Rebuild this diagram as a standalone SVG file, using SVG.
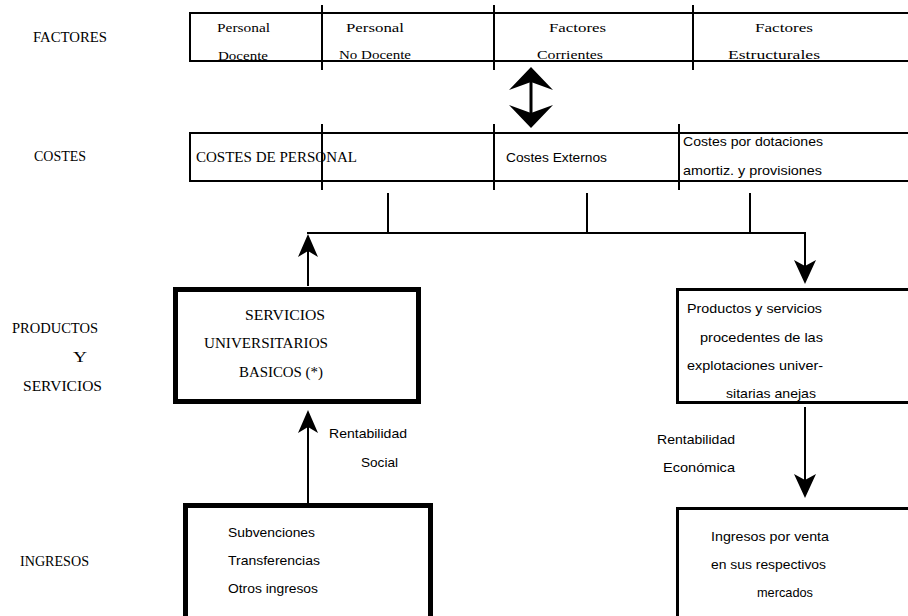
<svg xmlns="http://www.w3.org/2000/svg" width="908" height="616" viewBox="0 0 908 616">
  <style>
    .serif { font-family: "Liberation Serif", "Times New Roman", serif; font-size: 14px; fill: #000; }
    .cell { font-family: "Liberation Serif", "Times New Roman", serif; font-size: 13px; fill: #000; }
    .sans { font-family: "Liberation Sans", Arial, sans-serif; font-size: 13px; fill: #000; }
    .frame { fill: none; stroke: #000; }
    .thin { stroke-width: 2; }
    .mid { stroke-width: 3; }
    .thick { stroke-width: 5; }
    .line { stroke: #000; stroke-width: 2; fill: none; }
    .head { fill: #000; stroke: none; }
  </style>

  <rect width="908" height="616" fill="#fff"/>

  <!-- Row labels -->
  <g id="row-labels">
    <text class="serif" x="33" y="42" textLength="74" lengthAdjust="spacingAndGlyphs">FACTORES</text>
    <text class="serif" x="34" y="161" textLength="52" lengthAdjust="spacingAndGlyphs">COSTES</text>
    <text class="serif" x="12" y="333" textLength="86" lengthAdjust="spacingAndGlyphs">PRODUCTOS</text>
    <text class="serif" x="73" y="362" textLength="14" lengthAdjust="spacingAndGlyphs">Y</text>
    <text class="serif" x="23" y="391" textLength="79" lengthAdjust="spacingAndGlyphs">SERVICIOS</text>
    <text class="serif" x="20" y="566" textLength="69" lengthAdjust="spacingAndGlyphs">INGRESOS</text>
  </g>

  <!-- Factores strip -->
  <g id="factores">
    <rect class="frame thin" x="190" y="13" width="730" height="48"/>
    <line class="line" x1="322" y1="5" x2="322" y2="70"/>
    <line class="line" x1="494" y1="5" x2="494" y2="70"/>
    <line class="line" x1="693" y1="5" x2="693" y2="70"/>
    <text class="cell" x="217" y="32" textLength="53" lengthAdjust="spacingAndGlyphs">Personal</text>
    <text class="cell" x="218" y="60" textLength="50" lengthAdjust="spacingAndGlyphs">Docente</text>
    <text class="cell" x="346" y="32" textLength="58" lengthAdjust="spacingAndGlyphs">Personal</text>
    <text class="cell" x="339" y="59" textLength="72" lengthAdjust="spacingAndGlyphs">No Docente</text>
    <text class="cell" x="549" y="32" textLength="57" lengthAdjust="spacingAndGlyphs">Factores</text>
    <text class="cell" x="537" y="59" textLength="66" lengthAdjust="spacingAndGlyphs">Corrientes</text>
    <text class="cell" x="755" y="32" textLength="58" lengthAdjust="spacingAndGlyphs">Factores</text>
    <text class="cell" x="728" y="59" textLength="92" lengthAdjust="spacingAndGlyphs">Estructurales</text>
  </g>

  <!-- Costes strip -->
  <g id="costes">
    <rect class="frame thin" x="190" y="133" width="730" height="48"/>
    <line class="line" x1="322" y1="124" x2="322" y2="190"/>
    <line class="line" x1="494" y1="124" x2="494" y2="190"/>
    <line class="line" x1="679" y1="124" x2="679" y2="190"/>
    <text class="serif" x="196" y="162" textLength="161" lengthAdjust="spacingAndGlyphs">COSTES DE PERSONAL</text>
    <text class="sans" x="506" y="162" textLength="101" lengthAdjust="spacingAndGlyphs">Costes Externos</text>
    <text class="sans" x="683" y="146" textLength="140" lengthAdjust="spacingAndGlyphs">Costes por dotaciones</text>
    <text class="sans" x="683" y="175" textLength="139" lengthAdjust="spacingAndGlyphs">amortiz. y provisiones</text>
  </g>

  <!-- Servicios universitarios basicos -->
  <g id="servicios-basicos">
    <rect class="frame thick" x="175.5" y="289.5" width="243" height="112"/>
    <text class="serif" x="245" y="320" textLength="80" lengthAdjust="spacingAndGlyphs">SERVICIOS</text>
    <text class="serif" x="204" y="348" textLength="124" lengthAdjust="spacingAndGlyphs">UNIVERSITARIOS</text>
    <text class="serif" x="239" y="377" textLength="84" lengthAdjust="spacingAndGlyphs">BASICOS (*)</text>
  </g>

  <!-- Explotaciones anejas -->
  <g id="explotaciones">
    <rect class="frame mid" x="677.5" y="289.5" width="250" height="113"/>
    <text class="sans" x="687" y="313" textLength="135" lengthAdjust="spacingAndGlyphs">Productos y servicios</text>
    <text class="sans" x="700" y="342" textLength="123" lengthAdjust="spacingAndGlyphs">procedentes de las</text>
    <text class="sans" x="687" y="370" textLength="136" lengthAdjust="spacingAndGlyphs">explotaciones univer-</text>
    <text class="sans" x="726" y="398" textLength="90" lengthAdjust="spacingAndGlyphs">sitarias anejas</text>
  </g>

  <!-- Subvenciones y transferencias -->
  <g id="ingresos-basicos">
    <rect class="frame thick" x="185.5" y="505.5" width="245" height="130"/>
    <text class="sans" x="228" y="537" textLength="87" lengthAdjust="spacingAndGlyphs">Subvenciones</text>
    <text class="sans" x="228" y="565" textLength="92" lengthAdjust="spacingAndGlyphs">Transferencias</text>
    <text class="sans" x="228" y="593" textLength="90" lengthAdjust="spacingAndGlyphs">Otros ingresos</text>
  </g>

  <!-- Ingresos por venta -->
  <g id="ingresos-venta">
    <rect class="frame mid" x="677.5" y="508.5" width="250" height="130"/>
    <text class="sans" x="711" y="541" textLength="118" lengthAdjust="spacingAndGlyphs">Ingresos por venta</text>
    <text class="sans" x="711" y="569" textLength="115" lengthAdjust="spacingAndGlyphs">en sus respectivos</text>
    <text class="sans" x="757" y="597" textLength="56" lengthAdjust="spacingAndGlyphs">mercados</text>
  </g>

  <!-- Connectors -->
  <g id="connectors">
    <!-- double arrow between factores and costes -->
    <line x1="531" y1="78" x2="531" y2="118" stroke="#000" stroke-width="3"/>
    <path class="head" d="M531,67 L553,90 L531,82 L509,90 Z"/>
    <path class="head" d="M531,128 L553,105 L531,113 L509,105 Z"/>

    <!-- cost distribution bus -->
    <line class="line" x1="388" y1="193" x2="388" y2="233"/>
    <line class="line" x1="587" y1="193" x2="587" y2="233"/>
    <line class="line" x1="750" y1="193" x2="750" y2="233"/>
    <line class="line" x1="307" y1="233" x2="806" y2="233"/>

    <!-- up to servicios basicos -->
    <line class="line" x1="308" y1="245" x2="308" y2="286"/>
    <path class="head" d="M308,234 L318,257 L308,251 L298,257 Z"/>

    <!-- down to explotaciones -->
    <line class="line" x1="805" y1="233" x2="805" y2="272"/>
    <path class="head" d="M805,284 L816,260 L805,266 L794,260 Z"/>

    <!-- rentabilidad social -->
    <line class="line" x1="308" y1="420" x2="308" y2="503"/>
    <path class="head" d="M308,410 L318,433 L308,427 L298,433 Z"/>
    <text class="sans" x="329" y="438" textLength="78" lengthAdjust="spacingAndGlyphs">Rentabilidad</text>
    <text class="sans" x="361" y="467" textLength="37" lengthAdjust="spacingAndGlyphs">Social</text>

    <!-- rentabilidad economica -->
    <line class="line" x1="805" y1="407" x2="805" y2="486"/>
    <path class="head" d="M805,498 L816,474 L805,480 L794,474 Z"/>
    <text class="sans" x="657" y="444" textLength="78" lengthAdjust="spacingAndGlyphs">Rentabilidad</text>
    <text class="sans" x="663" y="472" textLength="72" lengthAdjust="spacingAndGlyphs">Económica</text>
  </g>
</svg>
